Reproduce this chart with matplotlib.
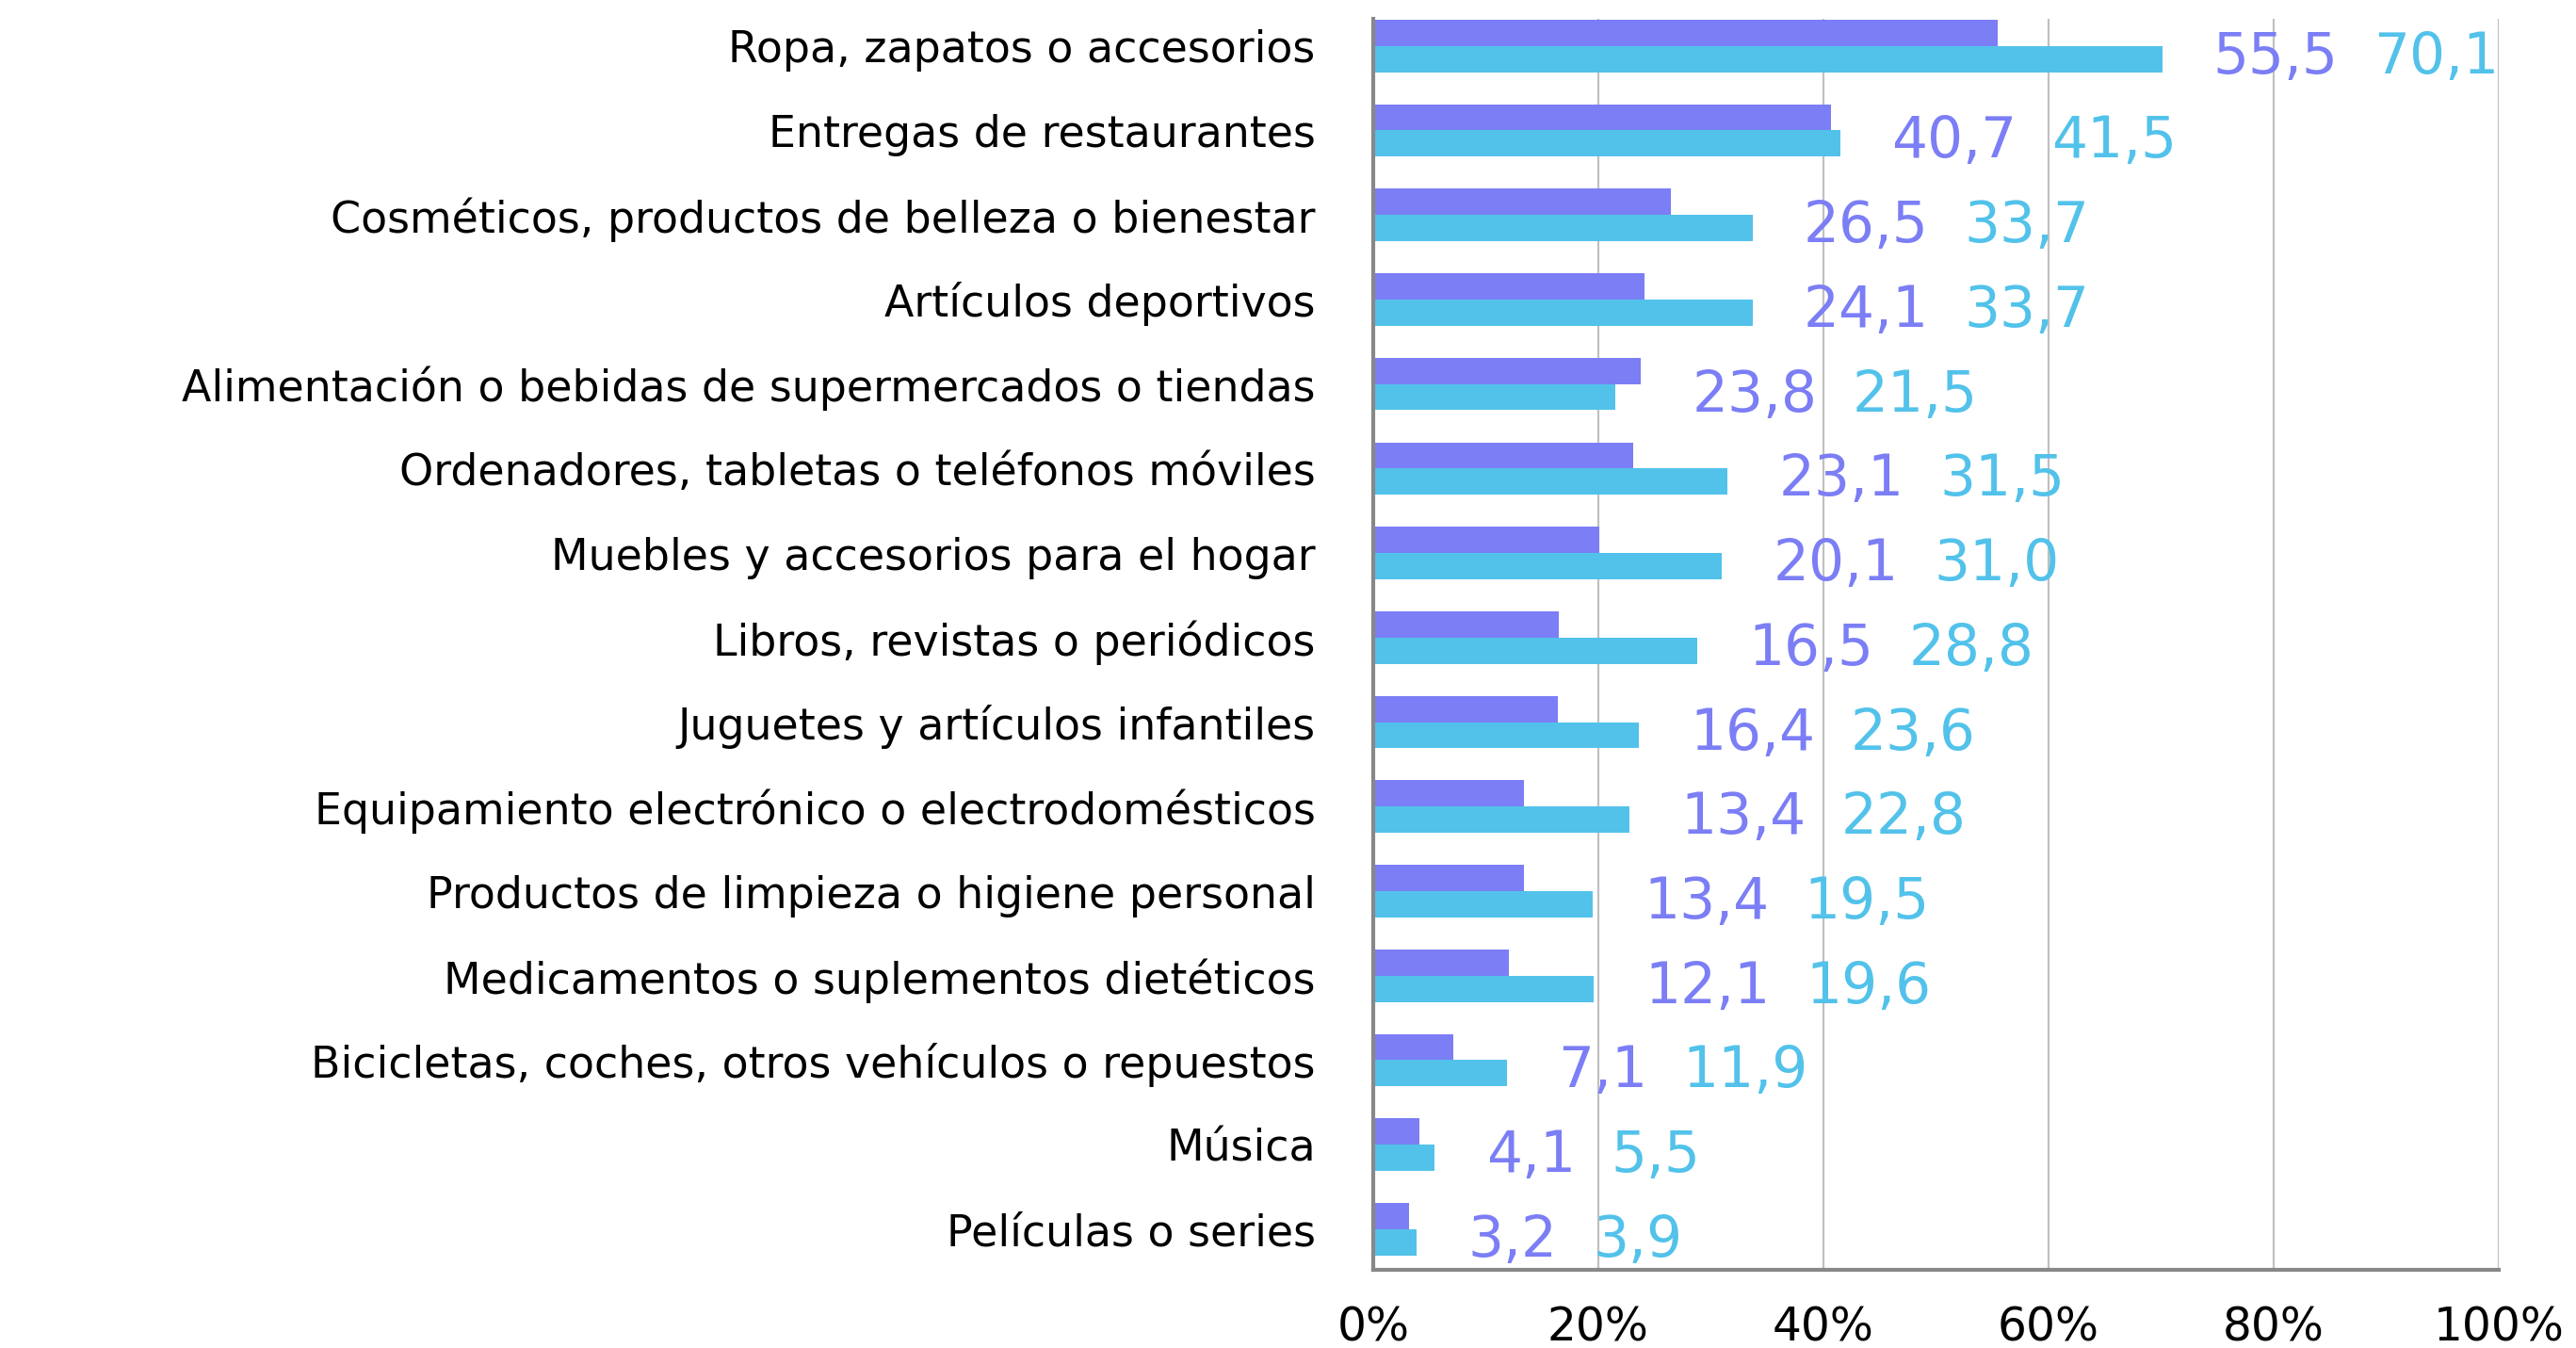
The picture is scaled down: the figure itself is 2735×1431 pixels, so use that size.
import numpy as np
import matplotlib.pyplot as plt

categories = [
    "Ropa, zapatos o accesorios",
    "Entregas de restaurantes",
    "Cosméticos, productos de belleza o bienestar",
    "Artículos deportivos",
    "Alimentación o bebidas de supermercados o tiendas",
    "Ordenadores, tabletas o teléfonos móviles",
    "Muebles y accesorios para el hogar",
    "Libros, revistas o periódicos",
    "Juguetes y artículos infantiles",
    "Equipamiento electrónico o electrodomésticos",
    "Productos de limpieza o higiene personal",
    "Medicamentos o suplementos dietéticos",
    "Bicicletas, coches, otros vehículos o repuestos",
    "Música",
    "Películas o series",
]
serie_a = [55.5, 40.7, 26.5, 24.1, 23.8, 23.1, 20.1, 16.5, 16.4, 13.4, 13.4, 12.1, 7.1, 4.1, 3.2]
serie_b = [70.1, 41.5, 33.7, 33.7, 21.5, 31.5, 31.0, 28.8, 23.6, 22.8, 19.5, 19.6, 11.9, 5.5, 3.9]
xticks = [0, 20, 40, 60, 80, 100]

purple = "#7b7ef5"
cyan = "#52c2ea"

plt.rcParams['font.family'] = ['DejaVu Sans']

fig = plt.figure(figsize=(27.35, 14.31), dpi=100)
ax = fig.add_axes([0.533, 0.058, 0.437, 0.928])

y = np.arange(len(categories))
h = 0.31
ax.barh(y - h / 2, serie_a, height=h, color=purple, zorder=3)
ax.barh(y + h / 2, serie_b, height=h, color=cyan, zorder=3)

ax.set_xlim(0, 100)
ax.set_ylim(14.48, -0.32)
ax.set_xticks(xticks)
ax.set_xticklabels([f"{t}%" for t in xticks], fontsize=35)
ax.set_yticks(y)
ax.set_yticklabels(categories, fontsize=33)
ax.tick_params(axis='y', length=0, pad=44)
ax.tick_params(axis='x', length=0, pad=27)

ax.grid(axis='x', color='#c0c0c0', linewidth=1.6, zorder=0)
for s in ['top', 'right']:
    ax.spines[s].set_visible(False)
for s in ['left', 'bottom']:
    ax.spines[s].set_color('#888888')
    ax.spines[s].set_linewidth(3)
    ax.spines[s].set_zorder(4)

for i in range(len(categories)):
    a, b = serie_a[i], serie_b[i]
    top = max(a, b)
    t1 = ax.annotate(f"{a:.1f}".replace('.', ','), xy=(top, i), xytext=(39, -9),
                     textcoords='offset points', color=purple, fontsize=43,
                     va='center', ha='left')
    ax.annotate(f"{b:.1f}".replace('.', ','), xy=(1, 0.5), xycoords=t1,
                xytext=(27, 0), textcoords='offset points', color=cyan,
                fontsize=43, va='center', ha='left')

fig.savefig("out.png", dpi=100)
